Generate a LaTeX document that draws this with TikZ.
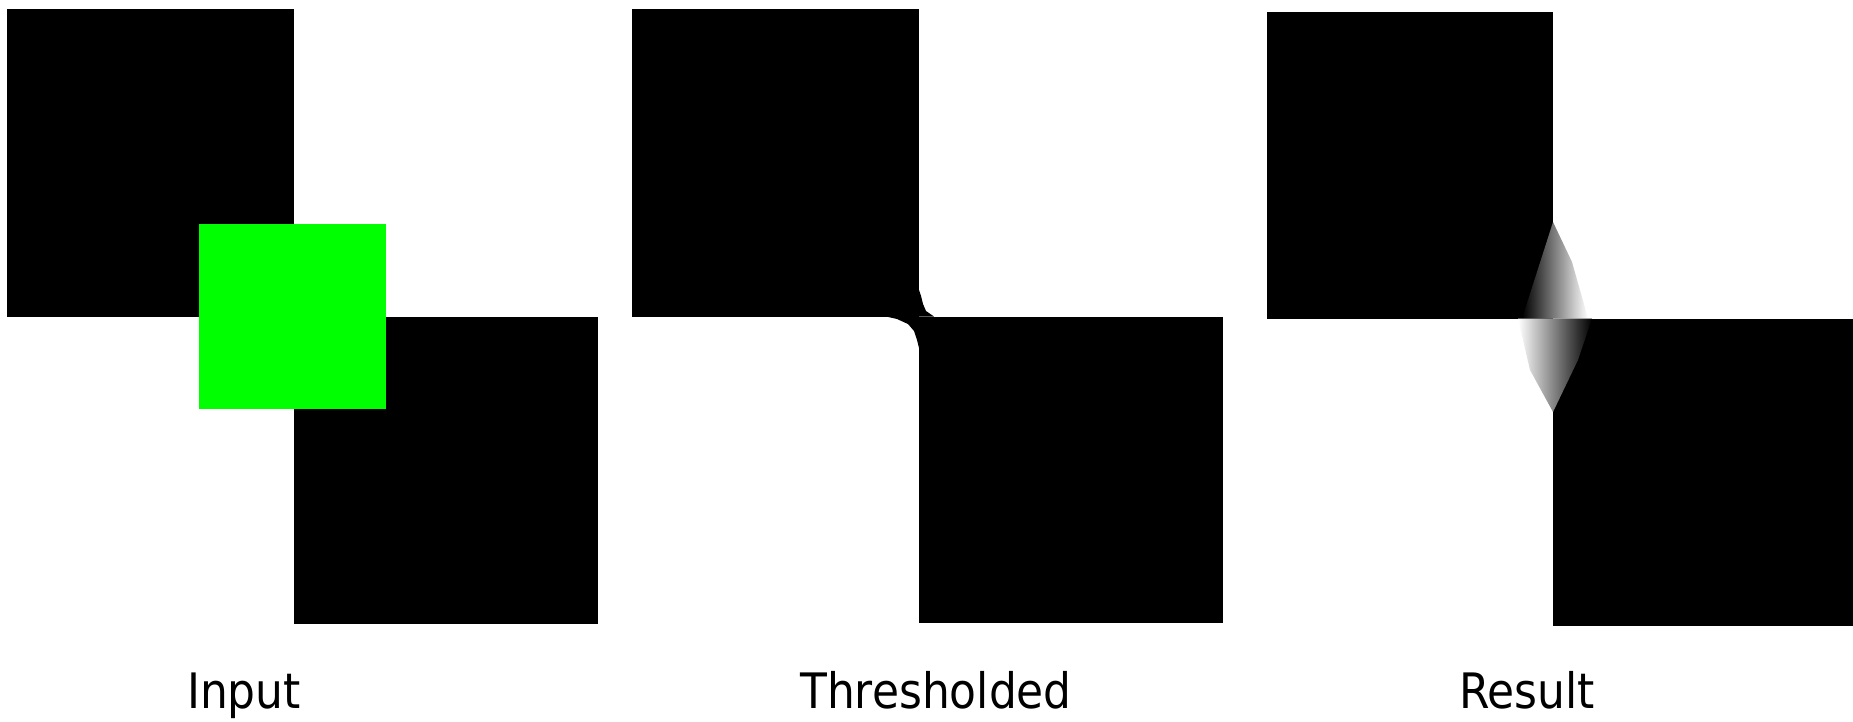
\documentclass[tikz,border=0pt]{standalone}
\usepackage{fontspec}
\setmainfont{DejaVu Sans}[FakeStretch=0.9]
\definecolor{markgreen}{RGB}{0,255,0}

\begin{document}
\begin{tikzpicture}[
    x=0.02cm, y=-0.02cm,
    imgsq/.style={fill=black},
    imgmark/.style={fill=markgreen},
    imglabel/.style={anchor=base, inner sep=0pt, font=\fontsize{27.8}{30}\selectfont}
]
  \fill[white] (0,0) rectangle (1853,721);
  \useasboundingbox (0,0) rectangle (1853,721);
  % input
  \fill[imgsq] (7,9) rectangle (294,316.5);
  \fill[imgsq] (294,316.5) rectangle (598,624);
  \fill[imgmark] (199,224) rectangle (386,409);
  % thresholded
  \fill[imgsq] (632,9) rectangle (919,316.5);
  \fill[imgsq] (919,316.5) rectangle (1223,623);
  \fill[imgsq] (919,290) -- (921,296) -- (923,304) -- (926,311) -- (934,316.5) -- (919,316.5) -- cycle;
  \fill[imgsq] (886,316.5) -- (897,319) -- (908,324) -- (914,331) -- (917,340) -- (919,348) -- (919,316.5) -- cycle;
  % result
  \fill[imgsq] (1267,12) rectangle (1553,318.5);
  \fill[imgsq] (1553,318.5) rectangle (1853,626);
  \shade[left color=black, middle color=black!35, right color=white]
    (1553,222) -- (1572,262) -- (1588,318.5) -- (1522,318.5) -- (1536,275) -- cycle;
  \shade[left color=white, middle color=black!30, right color=black]
    (1553,412) -- (1530,370) -- (1518,318.5) -- (1592,318.5) -- (1578,360) -- cycle;
  % labels
  \node[imglabel] (input) at (244,708) {Input};
  \node[imglabel] (thresh) at (936,708) {Thresholded};
  \node[imglabel] (result) at (1527,708) {Result};
\end{tikzpicture}
\end{document}
